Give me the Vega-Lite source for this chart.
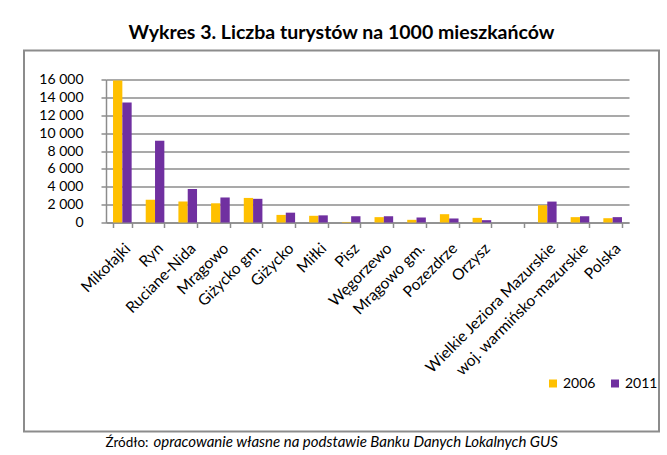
{
  "$schema": "https://vega.github.io/schema/vega-lite/v6.json",
  "width": 635,
  "height": 381,
  "autosize": {"type": "pad"},
  "padding": {"left": 23, "top": 22.5, "right": 0, "bottom": 0},
  "background": "white",
  "title": {
    "text": "Wykres 3. Liczba turystów na 1000 mieszkańców",
    "font": "Lato",
    "fontSize": 19.5,
    "fontWeight": "bold",
    "color": "black",
    "anchor": "middle",
    "frame": "group",
    "offset": 6
  },
  "config": {
    "view": {"stroke": null},
    "font": "Lato"
  },
  "resolve": {
    "scale": {"x": "independent", "y": "independent"},
    "axis": {"x": "independent", "y": "independent"}
  },
  "layer": [
    {
      "data": {
        "values": [
          {"region": "Mikołajki", "year": "2006", "value": 15900},
          {"region": "Mikołajki", "year": "2011", "value": 13430},
          {"region": "Ryn", "year": "2006", "value": 2550},
          {"region": "Ryn", "year": "2011", "value": 9150},
          {"region": "Ruciane-Nida", "year": "2006", "value": 2350},
          {"region": "Ruciane-Nida", "year": "2011", "value": 3750},
          {"region": "Mrągowo", "year": "2006", "value": 2150},
          {"region": "Mrągowo", "year": "2011", "value": 2800},
          {"region": "Giżycko gm.", "year": "2006", "value": 2750},
          {"region": "Giżycko gm.", "year": "2011", "value": 2650},
          {"region": "Giżycko", "year": "2006", "value": 850},
          {"region": "Giżycko", "year": "2011", "value": 1100},
          {"region": "Miłki", "year": "2006", "value": 750},
          {"region": "Miłki", "year": "2011", "value": 800},
          {"region": "Pisz", "year": "2006", "value": 60},
          {"region": "Pisz", "year": "2011", "value": 700},
          {"region": "Węgorzewo", "year": "2006", "value": 600},
          {"region": "Węgorzewo", "year": "2011", "value": 700},
          {"region": "Mrągowo gm.", "year": "2006", "value": 300},
          {"region": "Mrągowo gm.", "year": "2011", "value": 560},
          {"region": "Pozezdrze", "year": "2006", "value": 930},
          {"region": "Pozezdrze", "year": "2011", "value": 450},
          {"region": "Orzysz", "year": "2006", "value": 520},
          {"region": "Orzysz", "year": "2011", "value": 260},
          {"region": "Wielkie Jeziora Mazurskie", "year": "2006", "value": 1930},
          {"region": "Wielkie Jeziora Mazurskie", "year": "2011", "value": 2340},
          {"region": "woj. warmińsko-mazurskie", "year": "2006", "value": 600},
          {"region": "woj. warmińsko-mazurskie", "year": "2011", "value": 700},
          {"region": "Polska", "year": "2006", "value": 480},
          {"region": "Polska", "year": "2011", "value": 600}
        ]
      },
      "mark": {"type": "bar"},
      "encoding": {
        "x": {
          "field": "region",
          "type": "nominal",
          "sort": null,
          "scale": {
            "domain": ["Mikołajki", "Ryn", "Ruciane-Nida", "Mrągowo", "Giżycko gm.", "Giżycko", "Miłki", "Pisz", "Węgorzewo", "Mrągowo gm.", "Pozezdrze", "Orzysz", "", "Wielkie Jeziora Mazurskie", "woj. warmińsko-mazurskie", "Polska"],
            "range": [82, 605],
            "paddingInner": 0.43,
            "paddingOuter": 0.215
          },
          "axis": {
            "orient": "bottom",
            "offset": -209,
            "tickBand": "extent",
            "labelAngle": -45,
            "labelFont": "Lato",
            "labelFontSize": 15.5,
            "labelColor": "black",
            "labelPadding": 13,
            "tickSize": 5,
            "tickColor": "#8c8c8c",
            "tickWidth": 1.5,
            "domainColor": "#8c8c8c",
            "domainWidth": 1.5,
            "grid": false,
            "title": "opracowanie własne na podstawie Banku Danych Lokalnych GUS",
            "titleFont": "Lato",
            "titleFontSize": 15,
            "titleFontWeight": "normal",
            "titleFontStyle": "italic",
            "titleColor": "black",
            "titleAlign": "left",
            "titleBaseline": "alphabetic",
            "titleX": 129,
            "titleY": 224
          }
        },
        "xOffset": {
          "field": "year",
          "type": "nominal",
          "scale": {"paddingInner": 0, "paddingOuter": 0}
        },
        "y": {
          "field": "value",
          "type": "quantitative",
          "scale": {"domain": [0, 16000], "range": [172, 29], "nice": false, "zero": true},
          "axis": {
            "orient": "left",
            "offset": -82,
            "values": [0, 2000, 4000, 6000, 8000, 10000, 12000, 14000, 16000],
            "labelExpr": "replace(format(datum.value, ','), ',', ' ')",
            "labelFont": "Lato",
            "labelFontSize": 14,
            "labelColor": "black",
            "labelPadding": 18,
            "tickSize": 5,
            "tickColor": "#8c8c8c",
            "tickWidth": 1.5,
            "domainColor": "#8c8c8c",
            "domainWidth": 1.5,
            "grid": true,
            "gridColor": "#8c8c8c",
            "gridWidth": 1.5,
            "title": "Źródło:",
            "titleFont": "Lato",
            "titleFontSize": 13.5,
            "titleFontWeight": "normal",
            "titleColor": "black",
            "titleAngle": 0,
            "titleAlign": "left",
            "titleBaseline": "alphabetic",
            "titleX": -1,
            "titleY": 396
          }
        },
        "color": {
          "field": "year",
          "type": "nominal",
          "scale": {"domain": ["2006", "2011"], "range": ["#FFC000", "#7030A0"]},
          "legend": {
            "title": null,
            "orient": "none",
            "direction": "horizontal",
            "legendX": 522,
            "legendY": 326,
            "symbolType": "square",
            "symbolSize": 64,
            "symbolStrokeWidth": 0,
            "labelFont": "Lato",
            "labelFontSize": 14,
            "labelColor": "black",
            "labelOffset": 3,
            "columnPadding": 12
          }
        }
      }
    },
    {
      "data": {"values": [{}]},
      "mark": {"type": "rect", "fill": null, "stroke": "#8c8c8c", "strokeWidth": 2},
      "encoding": {
        "x": {"datum": 0, "type": "quantitative", "scale": {"domain": [0, 1], "nice": false, "zero": false}, "axis": null},
        "x2": {"datum": 1},
        "y": {"datum": 0, "type": "quantitative", "scale": {"domain": [0, 1], "nice": false, "zero": false}, "axis": null},
        "y2": {"datum": 1}
      }
    }
  ]
}
